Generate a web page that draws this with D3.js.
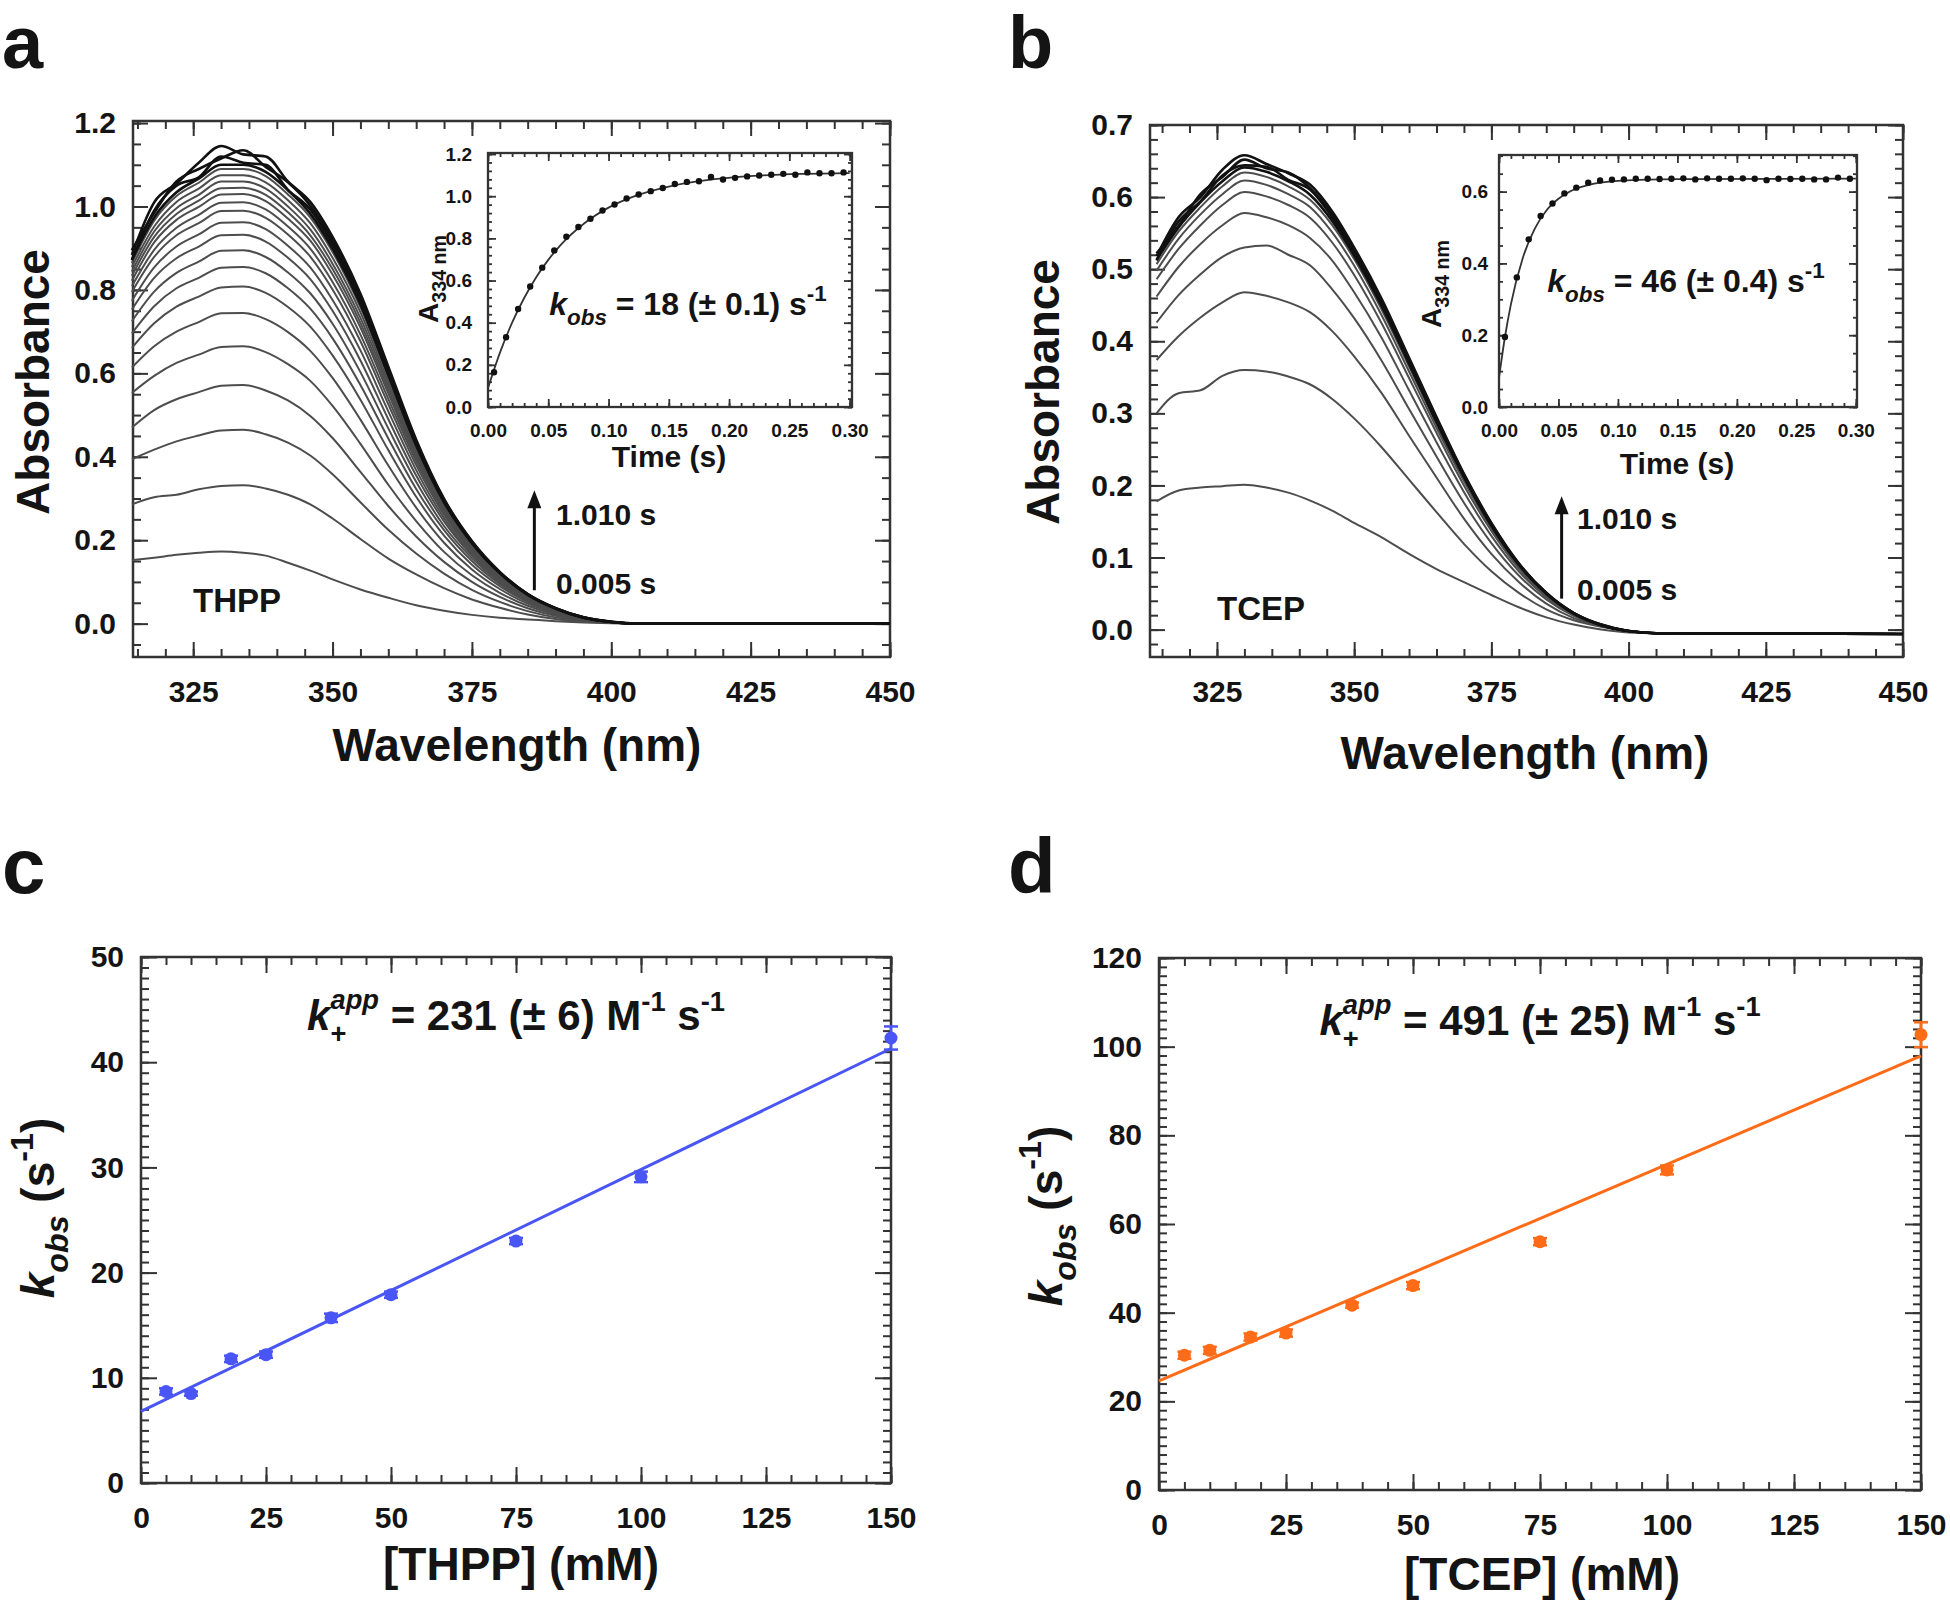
<!DOCTYPE html>
<html>
<head>
<meta charset="utf-8">
<script src="https://cdn.jsdelivr.net/npm/d3@7"></script>
<style>
  body { margin: 0; background: #fff; }
  text { font-family: "Liberation Sans", Arial, sans-serif; font-weight: bold; fill: #141414; white-space: pre; }
</style>
</head>
<body>
<svg id="fig" width="1950" height="1605"></svg>
<script>
// wavelengths (nm) shared by the spectra of panels a and b
const wl = [314,318,322,326,330,334,338,342,346,350,355,360,365,370,375,380,385,390,395,400,405,450];

// panel a (THPP) spectra, first scan 0.005 s up to the last ones
const specA = [
  [0.152,0.158,0.165,0.170,0.173,0.170,0.163,0.146,0.127,0.106,0.082,0.062,0.044,0.031,0.021,0.014,0.010,0.006,0.003,0.001,0,0],
  [0.286,0.303,0.309,0.322,0.330,0.332,0.324,0.309,0.286,0.252,0.203,0.156,0.118,0.085,0.058,0.038,0.022,0.011,0.005,0.002,0,0],
  [0.394,0.417,0.437,0.451,0.463,0.465,0.454,0.434,0.403,0.358,0.291,0.225,0.168,0.120,0.081,0.052,0.030,0.015,0.007,0.002,0,0],
  [0.470,0.512,0.538,0.555,0.570,0.572,0.559,0.535,0.498,0.445,0.364,0.282,0.209,0.148,0.100,0.064,0.037,0.019,0.008,0.003,0,0],
  [0.553,0.594,0.625,0.645,0.663,0.665,0.651,0.622,0.582,0.522,0.431,0.333,0.246,0.172,0.116,0.074,0.043,0.022,0.009,0.003,0,0],
  [0.614,0.665,0.700,0.723,0.744,0.745,0.730,0.699,0.654,0.589,0.489,0.379,0.278,0.194,0.130,0.083,0.048,0.025,0.010,0.003,0,0],
  [0.661,0.720,0.760,0.784,0.806,0.808,0.793,0.759,0.712,0.643,0.537,0.416,0.304,0.211,0.141,0.090,0.052,0.027,0.011,0.004,0,0],
  [0.696,0.761,0.804,0.829,0.853,0.855,0.840,0.804,0.755,0.684,0.572,0.444,0.323,0.224,0.150,0.095,0.054,0.028,0.011,0.004,0,0],
  [0.725,0.796,0.841,0.868,0.894,0.895,0.879,0.842,0.792,0.719,0.603,0.468,0.340,0.234,0.157,0.099,0.057,0.030,0.012,0.004,0,0],
  [0.753,0.829,0.876,0.904,0.931,0.932,0.916,0.877,0.826,0.750,0.631,0.490,0.355,0.245,0.163,0.103,0.059,0.031,0.012,0.004,0,0],
  [0.774,0.854,0.904,0.933,0.961,0.962,0.946,0.906,0.854,0.776,0.655,0.509,0.368,0.253,0.168,0.106,0.061,0.032,0.013,0.004,0,0],
  [0.795,0.879,0.931,0.960,0.989,0.990,0.973,0.933,0.880,0.801,0.677,0.526,0.380,0.261,0.173,0.109,0.063,0.033,0.013,0.004,0,0],
  [0.809,0.896,0.949,0.980,1.009,1.010,0.993,0.952,0.899,0.819,0.693,0.539,0.389,0.266,0.177,0.112,0.064,0.033,0.013,0.004,0,0],
  [0.822,0.914,0.968,0.999,1.029,1.030,1.013,0.971,0.918,0.837,0.710,0.552,0.397,0.272,0.180,0.114,0.065,0.034,0.013,0.004,0,0],
  [0.834,0.927,0.982,1.014,1.044,1.045,1.028,0.986,0.931,0.850,0.721,0.561,0.404,0.276,0.183,0.115,0.066,0.034,0.014,0.004,0,0],
  [0.844,0.940,0.996,1.028,1.060,1.060,1.043,1.000,0.945,0.863,0.733,0.571,0.410,0.280,0.186,0.117,0.067,0.035,0.014,0.004,0,0],
  [0.855,0.952,1.011,1.043,1.075,1.075,1.058,1.015,0.960,0.877,0.746,0.580,0.417,0.284,0.188,0.118,0.068,0.035,0.014,0.004,0,0],
  [0.865,0.966,1.025,1.057,1.090,1.090,1.073,1.029,0.974,0.891,0.758,0.590,0.423,0.288,0.191,0.120,0.069,0.036,0.014,0.004,0,0],
  [0.872,0.974,1.034,1.067,1.100,1.100,1.083,1.039,0.983,0.899,0.766,0.596,0.427,0.291,0.193,0.121,0.069,0.036,0.014,0.004,0,0],
  [0.872,0.990,1.050,1.070,1.120,1.105,1.100,1.040,0.993,0.909,0.775,0.603,0.432,0.294,0.194,0.122,0.070,0.037,0.015,0.004,0,0],
  [0.895,0.985,1.060,1.090,1.115,1.135,1.095,1.058,1.002,0.918,0.783,0.610,0.436,0.297,0.196,0.123,0.071,0.037,0.015,0.004,0,0],
  [0.884,1.010,1.055,1.105,1.145,1.125,1.120,1.060,1.011,0.927,0.791,0.616,0.441,0.299,0.198,0.124,0.071,0.037,0.015,0.005,0,0]
];

// panel b (TCEP) spectra
const specB = [
  [0.178,0.193,0.197,0.199,0.201,0.197,0.190,0.179,0.165,0.148,0.128,0.105,0.084,0.066,0.048,0.031,0.017,0.007,0.000,-0.004,-0.005,-0.006],
  [0.300,0.328,0.332,0.352,0.360,0.358,0.351,0.340,0.320,0.293,0.253,0.208,0.163,0.119,0.081,0.051,0.028,0.013,0.004,-0.002,-0.005,-0.006],
  [0.374,0.407,0.433,0.454,0.468,0.463,0.454,0.440,0.414,0.379,0.328,0.269,0.211,0.154,0.105,0.066,0.036,0.016,0.005,-0.002,-0.005,-0.006],
  [0.426,0.464,0.493,0.517,0.530,0.533,0.520,0.505,0.472,0.432,0.373,0.306,0.240,0.176,0.120,0.075,0.042,0.019,0.005,-0.002,-0.005,-0.006],
  [0.462,0.503,0.535,0.561,0.578,0.572,0.561,0.543,0.512,0.468,0.405,0.332,0.260,0.191,0.130,0.081,0.045,0.020,0.006,-0.002,-0.005,-0.006],
  [0.486,0.528,0.561,0.589,0.607,0.601,0.589,0.571,0.537,0.492,0.425,0.349,0.273,0.200,0.137,0.085,0.047,0.021,0.006,-0.002,-0.005,-0.006],
  [0.498,0.542,0.576,0.604,0.623,0.617,0.604,0.586,0.551,0.505,0.436,0.358,0.280,0.206,0.140,0.087,0.049,0.022,0.006,-0.002,-0.005,-0.006],
  [0.507,0.552,0.586,0.615,0.634,0.628,0.615,0.596,0.561,0.514,0.444,0.365,0.285,0.209,0.143,0.089,0.049,0.022,0.006,-0.002,-0.005,-0.006],
  [0.513,0.558,0.593,0.622,0.641,0.635,0.622,0.603,0.567,0.519,0.449,0.369,0.288,0.212,0.144,0.090,0.050,0.022,0.006,-0.002,-0.005,-0.006],
  [0.512,0.566,0.594,0.630,0.644,0.642,0.624,0.610,0.572,0.523,0.452,0.371,0.291,0.213,0.145,0.091,0.050,0.023,0.006,-0.002,-0.005,-0.006],
  [0.522,0.560,0.604,0.628,0.652,0.640,0.634,0.612,0.576,0.527,0.456,0.374,0.293,0.215,0.147,0.091,0.051,0.023,0.007,-0.002,-0.005,-0.006],
  [0.518,0.572,0.600,0.638,0.658,0.646,0.633,0.617,0.580,0.530,0.459,0.377,0.295,0.216,0.148,0.092,0.051,0.023,0.007,-0.002,-0.005,-0.006]
];

// insets: A334 vs time
const kinT = [0.005,0.015,0.025,0.035,0.045,0.055,0.065,0.075,0.085,0.095,0.105,0.115,0.125,0.135,0.145,
              0.155,0.165,0.175,0.185,0.195,0.205,0.215,0.225,0.235,0.245,0.255,0.265,0.275,0.285,0.295];
const kinA = [0.165,0.331,0.465,0.572,0.661,0.743,0.808,0.854,0.893,0.932,0.961,0.989,1.008,1.024,1.039,
              1.058,1.068,1.071,1.091,1.079,1.087,1.094,1.098,1.102,1.106,1.102,1.113,1.109,1.109,1.113];
const kinB = [0.195,0.361,0.467,0.532,0.567,0.595,0.611,0.625,0.631,0.633,0.634,0.636,0.636,0.635,0.636,
              0.637,0.634,0.637,0.636,0.636,0.637,0.636,0.632,0.636,0.635,0.636,0.634,0.634,0.639,0.636];
const fitAt = [0,0.01,0.02,0.03,0.04,0.05,0.06,0.08,0.10,0.12,0.15,0.18,0.22,0.26,0.30];
const fitAv = [0.09,0.259,0.400,0.517,0.616,0.698,0.767,0.872,0.946,0.997,1.046,1.075,1.096,1.106,1.110];
const fitBt = [0,0.005,0.01,0.02,0.03,0.04,0.05,0.06,0.08,0.10,0.15,0.30];
const fitBv = [0.081,0.195,0.286,0.415,0.496,0.548,0.580,0.601,0.622,0.630,0.635,0.636];

// panels c / d: kobs vs reductant concentration (mM)
const conc = [5,10,18,25,38,50,75,100,150];
const kobsC = [8.7,8.5,11.8,12.2,15.7,17.9,23.0,29.1,42.3];
const errC = [0.3,0.2,0.3,0.3,0.4,0.3,0.3,0.5,1.1];
const kobsD = [30.4,31.5,34.5,35.4,41.7,46.1,56.0,72.2,102.7];
const errD = [0.8,0.8,0.8,0.8,0.6,0.8,0.8,1.0,2.8];
const fitX = [0,150];
const fitC = [6.8,41.3];
const fitD = [24.6,97.9];

// tick labels
const wlTicks = [325,350,375,400,425,450];
const absTicksA = [0,0.2,0.4,0.6,0.8,1.0,1.2];
const absTicksB = [0,0.1,0.2,0.3,0.4,0.5,0.6,0.7];
const tTicks = [0,0.05,0.10,0.15,0.20,0.25,0.30];
const insTicksA = [0,0.2,0.4,0.6,0.8,1.0,1.2];
const insTicksB = [0,0.2,0.4,0.6];
const concTicks = [0,25,50,75,100,125,150];
const kTicksC = [0,10,20,30,40,50];
const kTicksD = [0,20,40,60,80,100,120];

const svg = d3.select('#fig');

// box with inward ticks on all four sides
function frame(g, x, y, o) {
  const [x0, x1] = x.range(), [y0, y1] = y.range();
  g.append('rect').attr('x', x0).attr('y', y1).attr('width', x1 - x0).attr('height', y0 - y1).attr('fill', '#fff');
  const sides = [
    [d3.axisBottom, x, 0, y0, o.xMaj, o.xMin, o.xFmt, o.xPad],
    [d3.axisTop, x, 0, y1, o.xMaj, o.xMin, null, 0],
    [d3.axisLeft, y, x0, 0, o.yMaj, o.yMin, o.yFmt, o.yPad],
    [d3.axisRight, y, x1, 0, o.yMaj, o.yMin, null, 0]
  ];
  sides.forEach(s => {
    const [ax, sc, tx, ty, maj, min, fmt, pad] = s;
    const gm = g.append('g').attr('transform', `translate(${tx},${ty})`)
      .call(ax(sc).tickValues(min).tickSize(-o.minLen).tickFormat(''));
    const gM = g.append('g').attr('transform', `translate(${tx},${ty})`)
      .call(ax(sc).tickValues(maj).tickSize(-o.majLen).tickPadding(pad).tickFormat(fmt ? d3.format(fmt) : ''));
    [gm, gM].forEach(a => {
      a.attr('font-size', null).attr('font-family', null);
      a.select('.domain').remove();
      a.selectAll('line').attr('stroke', '#333').attr('stroke-width', o.sw);
      a.selectAll('text').attr('fill', null).style('font-size', o.fs + 'px');
    });
  });
  g.append('rect').attr('x', x0).attr('y', y1).attr('width', x1 - x0).attr('height', y0 - y1)
    .attr('fill', 'none').attr('stroke', '#333').attr('stroke-width', o.sw + 0.5);
}

// text made of pieces (italic, sub/superscripts, stacked), centred on x
function rich(parent, segs, fs, x, y, rot) {
  const g = parent.append('g').attr('transform', `translate(${x},${y})` + (rot ? ` rotate(${rot})` : ''));
  const inner = g.append('g');
  let cx = 0;
  segs.forEach(s => {
    const items = s.stack || [s];
    let w = 0;
    items.forEach(it => {
      const t = inner.append('text').attr('x', cx).attr('y', (it.dy || 0) * fs)
        .style('font-size', (it.k || 1) * fs + 'px')
        .style('font-style', it.i ? 'italic' : null)
        .text(it.t);
      w = Math.max(w, t.node().getComputedTextLength());
    });
    cx += w;
  });
  inner.attr('transform', `translate(${-cx / 2},0)`);
}

function label(t, x, y, fs, anchor, rot) {
  svg.append('text').attr('transform', `translate(${x},${y})` + (rot ? ` rotate(${rot})` : ''))
    .attr('text-anchor', anchor || 'start').style('font-size', fs + 'px').text(t);
}

function arrow(x, ya, yb) {
  svg.append('line').attr('x1', x).attr('x2', x).attr('y1', ya).attr('y2', yb + 14)
    .attr('stroke', '#111').attr('stroke-width', 3);
  svg.append('path').attr('d', `M${x - 7},${yb + 18}L${x},${yb}L${x + 7},${yb + 18}Z`).attr('fill', '#111');
}

// ---------- spectra panels ----------
function spectraPanel(spec, xs, ys, yMaj, yMin, yFmt) {
  const g = svg.append('g');
  frame(g, xs, ys, { xMaj: wlTicks, xMin: d3.range(315, 451, 5), xFmt: 'd', xPad: 24,
    yMaj: yMaj, yMin: yMin, yFmt: yFmt, yPad: 17, majLen: 15, minLen: 8, sw: 2, fs: 30 });
  const line = d3.line().x(d => xs(d[0])).y(d => ys(d[1])).curve(d3.curveMonotoneX);
  const n = spec.length;
  spec.forEach((row, i) => {
    g.append('path').datum(wl.map((w, j) => [w, row[j]]))
      .attr('d', line).attr('fill', 'none')
      .attr('stroke', i >= n - 4 ? '#111' : '#4d4d4d')
      .attr('stroke-width', i >= n - 4 ? 2.6 : 2);
  });
  return g;
}

function insetPanel(xs, ys, yMaj, yMin, tv, av, ft, fv, yPad) {
  const g = svg.append('g');
  frame(g, xs, ys, { xMaj: tTicks, xMin: d3.range(0, 0.3001, 0.01), xFmt: '.2f', xPad: 17,
    yMaj: yMaj, yMin: yMin, yFmt: '.1f', yPad: yPad, majLen: 8, minLen: 4, sw: 1.8, fs: 19 });
  const line = d3.line().x(d => xs(d[0])).y(d => ys(d[1])).curve(d3.curveMonotoneX);
  g.append('path').datum(ft.map((t, i) => [t, fv[i]])).attr('d', line)
    .attr('fill', 'none').attr('stroke', '#333').attr('stroke-width', 1.8);
  g.selectAll('circle.pt').data(tv.map((t, i) => [t, av[i]])).enter().append('circle')
    .attr('cx', d => xs(d[0])).attr('cy', d => ys(d[1])).attr('r', 3.2).attr('fill', '#111');
}

// panel a
const xA = d3.scaleLinear().domain([314.2, 450]).range([133, 890]);
const yA = d3.scaleLinear().domain([-0.08, 1.205]).range([657, 121]);
spectraPanel(specA, xA, yA, absTicksA, d3.range(-0.05, 1.2001, 0.05), '.1f');
const xiA = d3.scaleLinear().domain([0, 0.302]).range([488, 852]);
const yiA = d3.scaleLinear().domain([0, 1.205]).range([407, 153]);
insetPanel(xiA, yiA, insTicksA, d3.range(0, 1.2001, 0.04), kinT, kinA, fitAt, fitAv, 16);

// panel b
const xB = d3.scaleLinear().domain([312.8, 450]).range([1150, 1903]);
const yB = d3.scaleLinear().domain([-0.038, 0.7]).range([657, 125]);
spectraPanel(specB, xB, yB, absTicksB, d3.range(-0.02, 0.7001, 0.02), '.1f');
const xiB = d3.scaleLinear().domain([0, 0.301]).range([1499, 1857]);
const yiB = d3.scaleLinear().domain([0, 0.702]).range([407, 155]);
insetPanel(xiB, yiB, insTicksB, d3.range(0, 0.7001, 0.05), kinT, kinB, fitBt, fitBv, 11);

// annotations a / b
label('Absorbance', 49, 382, 46, 'middle', -90);
label('Absorbance', 1059, 392, 46, 'middle', -90);
label('Wavelength (nm)', 517, 761, 46, 'middle');
label('Wavelength (nm)', 1525, 769, 46, 'middle');
label('THPP', 193, 612, 33);
label('TCEP', 1217, 620, 33);
label('1.010 s', 556, 525, 30);
label('0.005 s', 556, 594, 30);
label('1.010 s', 1577, 529, 30);
label('0.005 s', 1577, 600, 30);
arrow(xA(386.2), yA(0.08), yA(0.32));
arrow(xB(387.8), yB(0.043), yB(0.185));
label('Time (s)', 669, 467, 30, 'middle');
label('Time (s)', 1677, 474, 30, 'middle');
rich(svg, [{ t: 'A' }, { t: '334 nm', k: 0.7, dy: 0.3 }], 28, 438, 279, -90);
rich(svg, [{ t: 'A' }, { t: '334 nm', k: 0.7, dy: 0.3 }], 28, 1441, 284, -90);
rich(svg, [{ t: 'k', i: 1 }, { t: 'obs', i: 1, k: 0.7, dy: 0.3 }, { t: '\u00a0=\u00a018\u00a0(±\u00a00.1)\u00a0s' },
  { t: '-1', k: 0.7, dy: -0.45 }], 32, 688, 315);
rich(svg, [{ t: 'k', i: 1 }, { t: 'obs', i: 1, k: 0.7, dy: 0.3 }, { t: '\u00a0=\u00a046\u00a0(±\u00a00.4)\u00a0s' },
  { t: '-1', k: 0.7, dy: -0.45 }], 32, 1686, 292);

// ---------- kobs panels ----------
function kobsPanel(xs, ys, yMaj, yMin, vals, errs, fit, color) {
  const g = svg.append('g');
  frame(g, xs, ys, { xMaj: concTicks, xMin: d3.range(0, 151, 5), xFmt: 'd', xPad: 24,
    yMaj: yMaj, yMin: yMin, yFmt: 'd', yPad: 17, majLen: 16, minLen: 8, sw: 2, fs: 30 });
  g.append('path').datum(fitX.map((c, i) => [c, fit[i]]))
    .attr('d', d3.line().x(d => xs(d[0])).y(d => ys(d[1])))
    .attr('stroke', color).attr('stroke-width', 3).attr('fill', 'none');
  const pts = conc.map((c, i) => ({ c: c, v: vals[i], e: errs[i] }));
  const eb = g.selectAll('g.eb').data(pts).enter().append('g')
    .attr('stroke', color).attr('stroke-width', 2.5);
  eb.append('line').attr('x1', d => xs(d.c)).attr('x2', d => xs(d.c))
    .attr('y1', d => ys(d.v - d.e)).attr('y2', d => ys(d.v + d.e));
  [-1, 1].forEach(sg => eb.append('line').attr('x1', d => xs(d.c) - 7).attr('x2', d => xs(d.c) + 7)
    .attr('y1', d => ys(d.v + sg * d.e)).attr('y2', d => ys(d.v + sg * d.e)));
  g.selectAll('circle.pt').data(pts).enter().append('circle')
    .attr('cx', d => xs(d.c)).attr('cy', d => ys(d.v)).attr('r', 6.5).attr('fill', color);
}

const xC = d3.scaleLinear().domain([0, 150]).range([141, 891]);
const yC = d3.scaleLinear().domain([0, 50]).range([1483, 957]);
kobsPanel(xC, yC, kTicksC, d3.range(0, 50.1, 1), kobsC, errC, fitC, '#4a55f5');
const xD = d3.scaleLinear().domain([0, 150]).range([1159, 1921]);
const yD = d3.scaleLinear().domain([0, 120]).range([1490, 958]);
kobsPanel(xD, yD, kTicksD, d3.range(0, 120.1, 2), kobsD, errD, fitD, '#ff6b17');

label('[THPP] (mM)', 521, 1580, 46, 'middle');
label('[TCEP] (mM)', 1542, 1590, 46, 'middle');
const ylab = [{ t: 'k', i: 1 }, { t: 'obs', i: 1, k: 0.7, dy: 0.3 }, { t: '\u00a0(s' }, { t: '-1', k: 0.7, dy: -0.45 }, { t: ')' }];
rich(svg, ylab, 46, 54, 1208, -90);
rich(svg, ylab, 46, 1062, 1216, -90);
const kapp = n => [{ t: 'k', i: 1 },
  { stack: [{ t: 'app', i: 1, k: 0.65, dy: -0.5 }, { t: '+', k: 0.65, dy: 0.3 }] },
  { t: '\u00a0=\u00a0' + n + '\u00a0M' }, { t: '-1', k: 0.65, dy: -0.45 }, { t: '\u00a0s' }, { t: '-1', k: 0.65, dy: -0.45 }];
rich(svg, kapp('231 (±\u00a06)'), 42, 516, 1030);
rich(svg, kapp('491 (±\u00a025)'), 42, 1540, 1035);

// panel letters
label('a', 2, 68, 74);
label('b', 1008, 68, 74);
label('c', 2, 893, 78);
label('d', 1008, 893, 78);
</script>
</body>
</html>
